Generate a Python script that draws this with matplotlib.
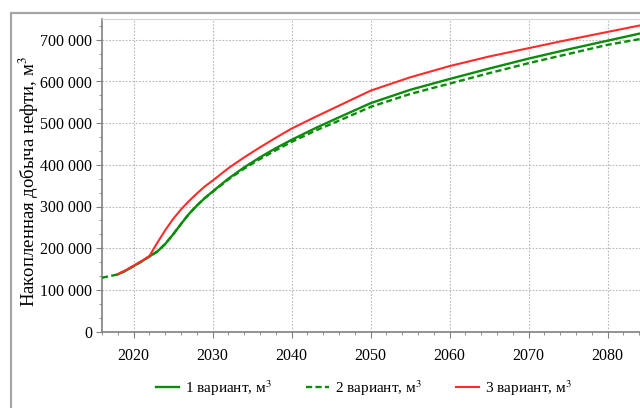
import matplotlib
matplotlib.use("Agg")
import matplotlib.pyplot as plt
from matplotlib.ticker import MultipleLocator, AutoMinorLocator, FuncFormatter
from matplotlib.patches import Rectangle

plt.rcParams.update({
    "font.family": "Liberation Serif",
    "mathtext.fontset": "stix",
    "font.size": 11,
})

# ── Data (thousand m3) ────────────────────────────────────────────────────────
years_v1 = [2018, 2019, 2020, 2021, 2022, 2023, 2024, 2025, 2026, 2027, 2028, 2029,
            2030, 2032, 2034, 2036, 2038, 2040, 2043, 2046, 2050, 2055, 2060, 2065,
            2070, 2075, 2080, 2085]
oil_v1 = [137, 146, 157, 168, 180, 192, 210, 233, 258, 282, 302, 320,
          336, 367, 394, 418, 440, 460, 488, 514, 548, 580, 606, 631,
          655, 677, 698, 719]

years_v2 = [2016, 2017, 2018, 2019, 2020, 2021, 2022, 2023, 2024, 2025, 2026, 2027,
            2028, 2029, 2030, 2032, 2034, 2036, 2038, 2040, 2043, 2046, 2050, 2055,
            2060, 2065, 2070, 2075, 2080, 2085]
oil_v2 = [129, 133, 137, 146, 157, 168, 180, 192, 210, 233, 258, 282,
          302, 320, 335, 365, 391, 414, 435, 455, 482, 506, 539, 570,
          595, 620, 644, 666, 688, 705]

years_v3 = [2018, 2019, 2020, 2021, 2022, 2023, 2024, 2025, 2026, 2027, 2028, 2029,
            2030, 2032, 2034, 2036, 2038, 2040, 2043, 2046, 2050, 2055, 2060, 2065,
            2070, 2075, 2080, 2085]
oil_v3 = [138, 147, 158, 169, 181, 213, 243, 270, 293, 313, 331, 348,
          362, 392, 418, 442, 465, 487, 515, 542, 578, 610, 637, 660,
          680, 700, 719, 738]

labels = ["1 вариант, м$^3$", "2 вариант, м$^3$", "3 вариант, м$^3$"]

GREEN = "#0b8c0b"
RED = "#ff2b2b"

# ── Plot ──────────────────────────────────────────────────────────────────────
fig = plt.figure(figsize=(6.4, 4.08), dpi=100)

# outer grey frame (cut off at right / bottom)
frame_top = 1 - 13 / 408
fig.patches.append(Rectangle((11 / 640, -0.2), 1.2, frame_top + 0.2,
                             transform=fig.transFigure, fill=False,
                             edgecolor="#a6a6a6", linewidth=1.6))

ax = fig.add_axes([102 / 640, 1 - 331.5 / 408, 1 - 102 / 640, (331.5 - 19) / 408])

ax.plot(years_v1, [v * 1000 for v in oil_v1], color=GREEN, lw=1.7, label=labels[0], zorder=3)
ax.plot(years_v2, [v * 1000 for v in oil_v2], color=GREEN, lw=1.7, dashes=(2.6, 1.4),
        label=labels[1], zorder=3)
ax.plot(years_v3, [v * 1000 for v in oil_v3], color=RED, lw=1.5, label=labels[2], zorder=4)

ax.set_xlim(2016, 2084.1)
ax.set_ylim(0, 750000)
ax.xaxis.set_major_locator(MultipleLocator(10))
ax.xaxis.set_minor_locator(MultipleLocator(2))
ax.yaxis.set_major_locator(MultipleLocator(100000))
ax.yaxis.set_minor_locator(AutoMinorLocator(3))
ax.yaxis.set_major_formatter(FuncFormatter(lambda v, p: f"{int(v):,}".replace(",", " ")))

ax.grid(True, which="major", color="#b8b8b8", ls=(0, (1.5, 1.5)), lw=0.8)
ax.tick_params(which="major", length=4, color="#808080", labelsize=11.5, pad=3)
ax.tick_params(axis="x", which="major", pad=8)
ax.tick_params(which="minor", length=2.5, color="#808080")
for lbl in ax.get_xticklabels() + ax.get_yticklabels():
    lbl.set_fontfamily("Liberation Serif")

for side in ["left", "bottom"]:
    ax.spines[side].set_color("#808080")
    ax.spines[side].set_linewidth(1.2)
ax.spines["top"].set_color("#d4d4d4")
ax.spines["right"].set_visible(False)

ax.set_ylabel("Накопленная добыча нефти, м$^3$", fontsize=13.5)
ax.yaxis.set_label_coords(-0.113, 0.48)

fig.legend(loc="center", bbox_to_anchor=(364 / 640, 1 - 388 / 408), ncol=3,
           frameon=False, fontsize=11, handlelength=1.5, columnspacing=2.2,
           handletextpad=0.4)

fig.savefig("out.png", dpi=100)
